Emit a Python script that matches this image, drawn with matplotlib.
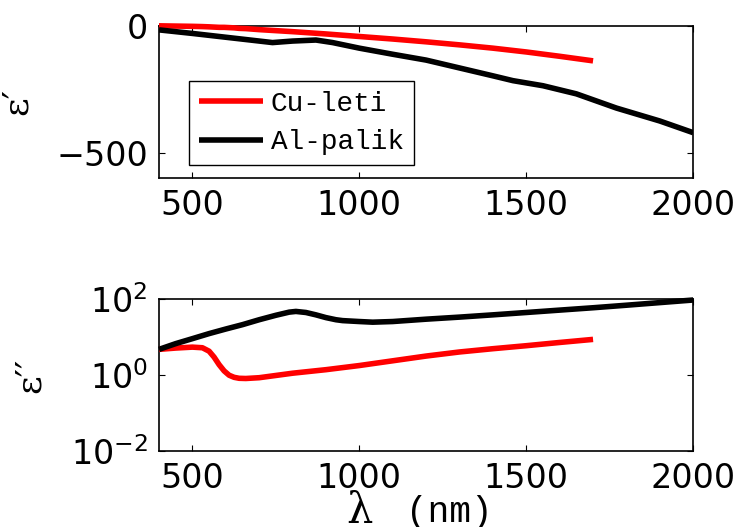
import matplotlib
matplotlib.use("Agg")
import matplotlib.pyplot as plt

# wavelength grid (nm) and permittivity
cu_wl = [400, 450, 500, 530, 550, 565, 580, 595, 610, 625, 640, 660, 700, 800, 900,
         1000, 1100, 1200, 1300, 1400, 1500, 1600, 1700]
cu_eps_re = [0, -1, -2, -3, -4, -5, -6, -6, -7, -8, -10, -11, -15, -23, -32,
             -42, -52, -63, -75, -88, -103, -120, -138]
cu_eps_im = [4.8, 5.2, 5.5, 5.3, 4.3, 3.0, 1.9, 1.3, 1.0, 0.88, 0.83, 0.82, 0.86, 1.13, 1.4,
             1.8, 2.4, 3.2, 4.1, 5.0, 6.0, 7.3, 8.8]

al_wl_re = [400, 500, 600, 700, 740, 800, 870, 920, 1000, 1100, 1200, 1300,
            1400, 1460, 1550, 1650, 1770, 1900, 2000]
al_eps_re = [-16, -30, -45, -60, -66, -60, -56, -66, -88, -112, -135, -166,
             -197, -216, -236, -268, -324, -375, -421]

al_wl_im = [400, 450, 500, 550, 600, 650, 700, 750, 790, 810, 840, 870, 900,
            930, 950, 1000, 1040, 1100, 1200, 1300, 1400, 1500, 1600, 1700,
            1800, 1900, 2000]
al_eps_im = [4.8, 6.8, 9.2, 12.5, 16.5, 21.5, 29, 38, 46, 48, 45, 39, 33,
             29, 27.5, 26, 25, 26, 30, 34, 39, 45, 52, 60,
             70, 82, 96]

plt.rcParams['font.family'] = 'DejaVu Sans'
plt.rcParams['xtick.direction'] = 'in'
plt.rcParams['ytick.direction'] = 'in'

fig = plt.figure(figsize=(7.43, 5.27), dpi=100)
ax1 = fig.add_axes([0.214, 0.662, 0.719, 0.289])
ax2 = fig.add_axes([0.214, 0.144, 0.719, 0.288])

ax1.plot(cu_wl, cu_eps_re, color='#ff0000', lw=4, label='Cu-leti', clip_on=False,
         zorder=3, solid_capstyle='butt')
ax1.plot(al_wl_re, al_eps_re, color='black', lw=4, label='Al-palik', zorder=3,
         solid_capstyle='butt')
ax1.set_xlim(400, 2000)
ax1.set_ylim(-600, 0)
ax1.set_yticks([-500, 0])
ax1.set_yticklabels(['\u2212500', '0'])
ax1.set_ylabel('\u03b5\u2032', family='DejaVu Serif', fontsize=26)
ax1.yaxis.set_label_coords(-0.235, 0.5)

ax2.plot(cu_wl, cu_eps_im, color='#ff0000', lw=4, zorder=3, solid_capstyle='butt')
ax2.plot(al_wl_im, al_eps_im, color='black', lw=4, zorder=3, clip_on=False,
         solid_capstyle='butt')
ax2.set_yscale('log')
ax2.set_xlim(400, 2000)
ax2.set_ylim(1e-2, 1e2)
ax2.set_yticks([1e-2, 1e0, 1e2])
ax2.minorticks_off()
ax2.set_ylabel('\u03b5\u2032\u2032', family='DejaVu Serif', fontsize=26)
ax2.yaxis.set_label_coords(-0.21, 0.5)

# x label: serif lambda plus monospace unit, sitting on the bottom edge
fig.text(0.484, 0.008, '\u03bb', family='DejaVu Serif', fontsize=30,
         ha='center', va='baseline')
fig.text(0.604, 0.010, '(nm)', family='Liberation Mono', fontsize=26,
         ha='center', va='baseline')

for ax in (ax1, ax2):
    ax.set_xticks([500, 1000, 1500, 2000])
    ax.tick_params(labelsize=24, length=4, width=0.8, top=True, right=True, pad=8)
    for s in ax.spines.values():
        s.set_linewidth(1.2)

leg = ax1.legend(loc='lower left', bbox_to_anchor=(0.056, 0.086),
                 borderaxespad=0,
                 prop={'family': 'Liberation Mono', 'size': 20},
                 fancybox=False, edgecolor='black', framealpha=1,
                 handlelength=2.3, borderpad=0.35, labelspacing=0.45,
                 handletextpad=0.3)
leg.get_frame().set_linewidth(1.0)

fig.savefig('out.png', dpi=100)
